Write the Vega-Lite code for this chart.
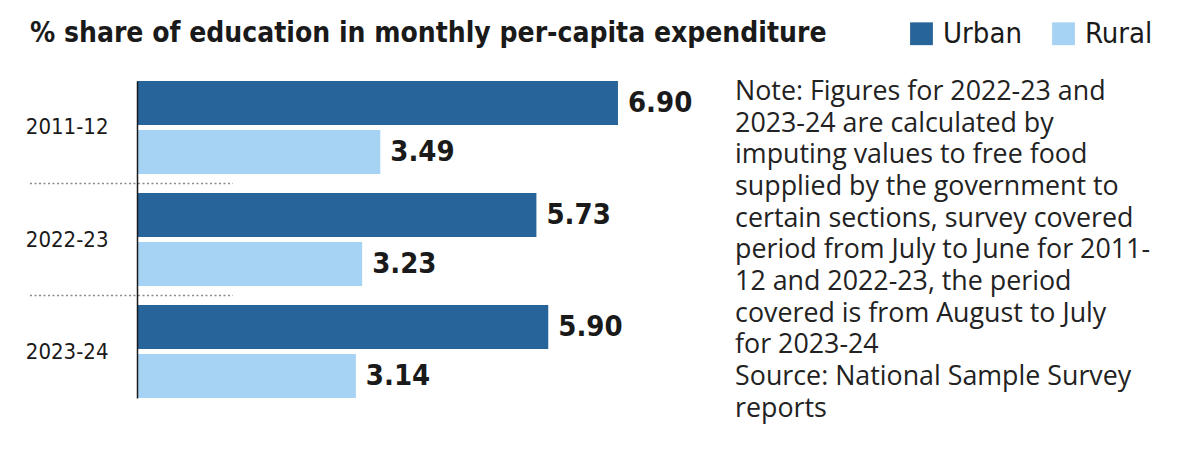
{
  "$schema": "https://vega.github.io/schema/vega-lite/v6.json",
  "width": 1063,
  "height": 317,
  "autosize": {"type": "none"},
  "padding": {"left": 137, "top": 81, "right": 0, "bottom": 65},
  "background": "#ffffff",
  "config": {
    "view": {"stroke": null},
    "font": "DejaVu Sans Condensed, DejaVu Sans",
    "axisY": {
      "title": null, "ticks": false, "labelPadding": 29, "labelFontSize": 22,
      "labelFont": "DejaVu Sans Condensed, DejaVu Sans",
      "labelColor": "#1a1a1a", "domainColor": "#1a1a1a", "domainWidth": 1.5, "domainOpacity": 1, "grid": false,
      "zindex": 1
    }
  },
  "datasets": {
    "bars": [
      {"year": "2011-12", "type": "Urban", "value": 6.90},
      {"year": "2011-12", "type": "Rural", "value": 3.49},
      {"year": "2022-23", "type": "Urban", "value": 5.73},
      {"year": "2022-23", "type": "Rural", "value": 3.23},
      {"year": "2023-24", "type": "Urban", "value": 5.90},
      {"year": "2023-24", "type": "Rural", "value": 3.14}
    ],
    "note": [
      {"line": 0, "text": "Note: Figures for 2022-23 and"},
      {"line": 1, "text": "2023-24 are calculated by"},
      {"line": 2, "text": "imputing values to free food"},
      {"line": 3, "text": "supplied by the government to"},
      {"line": 4, "text": "certain sections, survey covered"},
      {"line": 5, "text": "period from July to June for 2011-"},
      {"line": 6, "text": "12 and 2022-23, the period"},
      {"line": 7, "text": "covered is from August to July"},
      {"line": 8, "text": "for 2023-24"},
      {"line": 9, "text": "Source: National Sample Survey"},
      {"line": 10, "text": "reports"}
    ]
  },
  "layer": [
    {
      "data": {"name": "bars"},
      "layer": [
        {
          "mark": {"type": "bar"},
          "encoding": {
            "y": {
              "field": "year", "type": "nominal", "sort": ["2011-12", "2022-23", "2023-24"], "title": null,
              "scale": {"paddingInner": 0.17, "paddingOuter": 0},
              "axis": {"domainColor": "#1a1a1a", "domainWidth": 1.5, "zindex": 1}
            },
            "yOffset": {"field": "type", "sort": ["Urban", "Rural"], "scale": {"paddingInner": 0.102, "paddingOuter": 0}},
            "x": {"field": "value", "type": "quantitative", "scale": {"domain": [0, 15.25], "nice": false, "zero": false}, "axis": null},
            "color": {
              "field": "type", "type": "nominal",
              "scale": {"domain": ["Urban", "Rural"], "range": ["#27649a", "#a6d3f3"]},
              "legend": {
                "title": "% share of education in monthly per-capita expenditure",
                "titleOrient": "left", "titleFontSize": 28, "titleFontWeight": "bold",
                "titleFont": "DejaVu Sans Condensed, DejaVu Sans", "titleColor": "#1a1a1a",
                "titlePadding": 80, "titleLimit": 1100,
                "orient": "none", "direction": "horizontal",
                "legendX": -107, "legendY": -62, "padding": 0,
                "symbolType": "square", "symbolSize": 520, "symbolStrokeWidth": 0,
                "labelFontSize": 29, "labelFont": "DejaVu Sans Condensed, DejaVu Sans",
                "labelColor": "#1a1a1a", "labelOffset": 7, "columnPadding": 27
              }
            }
          }
        },
        {
          "mark": {"type": "text", "align": "left", "baseline": "middle", "dx": 10, "fontSize": 29, "fontWeight": "bold", "color": "#1a1a1a", "font": "DejaVu Sans Condensed, DejaVu Sans"},
          "encoding": {
            "y": {"field": "year", "type": "nominal", "sort": ["2011-12", "2022-23", "2023-24"], "title": null, "axis": {"domainColor": "#1a1a1a", "domainWidth": 1.5, "zindex": 1}},
            "yOffset": {"field": "type", "sort": ["Urban", "Rural"]},
            "x": {"field": "value", "type": "quantitative"},
            "text": {"field": "value", "type": "quantitative", "format": ".2f"}
          }
        },
        {
          "transform": [{"filter": "datum.type === 'Urban' && datum.year !== '2011-12'"}],
          "mark": {"type": "rule", "strokeDash": [2, 2.5], "strokeWidth": 1.5, "color": "#8a8a8a"},
          "encoding": {
            "y": {"field": "year", "type": "nominal", "sort": ["2011-12", "2022-23", "2023-24"], "bandPosition": -0.102, "title": null, "axis": {"domainColor": "#1a1a1a", "domainWidth": 1.5, "zindex": 1}},
            "x": {"datum": -1.535, "type": "quantitative"},
            "x2": {"datum": 1.377}
          }
        }
      ]
    },
    {
      "data": {"name": "note"},
      "mark": {"type": "text", "align": "left", "baseline": "alphabetic", "fontSize": 26.8, "font": "Open Sans", "color": "#222222"},
      "encoding": {
        "y": {"field": "line", "type": "quantitative", "scale": {"domain": [-0.6, 9.41], "reverse": true, "nice": false, "zero": false}, "axis": null},
        "x": {"datum": 8.58, "type": "quantitative"},
        "text": {"field": "text", "type": "nominal"}
      }
    }
  ],
  "resolve": {"scale": {"y": "independent"}}
}
